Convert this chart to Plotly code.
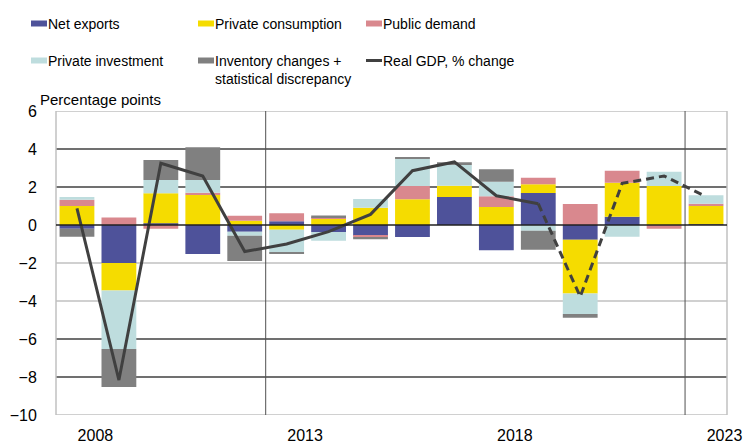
import plotly.graph_objects as go

years = list(range(2008, 2024))
net_exports = [-0.20, -2.00, 0.09, -1.53, -0.35, 0.20, -0.37, -0.56, -0.63, 1.47, -1.33, 1.68, -0.77, 0.44, 0.00, 0.04]
private_consumption = [1.00, -1.45, 1.58, 1.58, 0.23, -0.25, 0.32, 0.91, 1.35, 0.60, 0.95, 0.46, -2.83, 1.79, 2.05, 0.96]
public_demand = [0.33, 0.40, -0.20, 0.12, 0.26, 0.42, 0.10, -0.09, 0.70, 0.00, 0.56, 0.35, 1.10, 0.63, -0.20, 0.12]
private_investment = [0.14, -3.07, 0.70, 0.67, -0.21, -1.20, -0.46, 0.46, 1.44, 1.09, 0.77, -0.30, -1.08, -0.62, 0.75, 0.44]
inventory = [-0.42, -2.00, 1.05, 1.72, -1.33, -0.05, 0.08, -0.10, 0.05, 0.14, 0.65, -1.00, -0.20, 0.00, 0.00, 0.00]
real_gdp = [0.88, -8.16, 3.25, 2.58, -1.40, -1.00, -0.35, 0.56, 2.86, 3.32, 1.54, 1.12, -3.77, 2.19, 2.58, 1.49]
forecast_start = 2019
tick_years = [2008, 2013, 2018, 2023]
divider_years = [2013, 2023]

series = [
    ("Net exports", net_exports, "#4E529A"),
    ("Private consumption", private_consumption, "#F5DC00"),
    ("Public demand", public_demand, "#D9888E"),
    ("Private investment", private_investment, "#BEDDDE"),
    ("Inventory changes +<br>statistical discrepancy", inventory, "#808080"),
]
LINE_COLOR = "#404040"
FONT = "Liberation Sans, Arial, sans-serif"
LEG_FS = 14
TICK_FS = 16

W, H = 744, 444
ML, MR, MT, MB = 56, 17, 111, 29
PW, PH = W - ML - MR, H - MT - MB

def px(x):
    return (x - ML) / PW

def py(y):
    return 1 - (y - MT) / PH

xidx = list(range(len(years)))
fig = go.Figure()
for name, vals, col in series:
    fig.add_trace(go.Bar(x=xidx, y=vals, name=name, marker=dict(color=col, line=dict(width=0)),
                         showlegend=False))

split = years.index(forecast_start)
fig.add_trace(go.Scatter(x=xidx[:split + 1], y=real_gdp[:split + 1], mode="lines",
                         line=dict(color=LINE_COLOR, width=3), showlegend=False))
fig.add_trace(go.Scatter(x=xidx[split:], y=real_gdp[split:], mode="lines",
                         line=dict(color=LINE_COLOR, width=3, dash="8px,5px"), showlegend=False))

shapes = []
dark = "#404040"
light = "#C0C0C0"
grid_cols = {6: light, 4: dark, 2: dark, -2: light, -4: light, -6: dark, -8: dark, -10: light}
for v, c in grid_cols.items():
    shapes.append(dict(type="line", xref="paper", yref="y", x0=0, x1=1, y0=v, y1=v,
                       line=dict(color=c, width=1.3), layer="below"))
shapes.append(dict(type="line", xref="paper", yref="y", x0=0, x1=1, y0=0, y1=0,
                   line=dict(color="#202020", width=1.3), layer="above"))
for xv in (0, 1):
    shapes.append(dict(type="line", xref="paper", yref="paper", x0=xv, x1=xv, y0=0, y1=1,
                       line=dict(color=light, width=1.5), layer="below"))
for yr in divider_years:
    xv = years.index(yr) - 0.5
    shapes.append(dict(type="line", xref="x", yref="paper", x0=xv, x1=xv, y0=0, y1=1,
                       line=dict(color="#505050", width=1), layer="below"))

annotations = []
leg = [
    (series[0][0], series[0][2], 31, 23.5, "box"),
    (series[1][0], series[1][2], 198, 23.5, "box"),
    (series[2][0], series[2][2], 366, 23.5, "box"),
    (series[3][0], series[3][2], 31, 60.5, "box"),
    (series[4][0], series[4][2], 198, 60.5, "box"),
    ("Real GDP, % change", LINE_COLOR, 366, 60.5, "line"),
]
for name, col, x0, yc, kind in leg:
    if kind == "box":
        shapes.append(dict(type="rect", xref="paper", yref="paper", x0=px(x0), x1=px(x0 + 16),
                           y0=py(yc + 3), y1=py(yc - 3), fillcolor=col, line=dict(width=0)))
    else:
        shapes.append(dict(type="line", xref="paper", yref="paper", x0=px(x0), x1=px(x0 + 16),
                           y0=py(yc), y1=py(yc), line=dict(color=col, width=3)))
    annotations.append(dict(text=name, xref="paper", yref="paper", x=px(x0 + 15), y=py(yc - 10),
                            xanchor="left", yanchor="top", align="left", showarrow=False,
                            font=dict(family=FONT, size=LEG_FS, color="#000000")))
annotations.append(dict(text="Percentage points", xref="paper", yref="paper", x=px(38), y=py(99),
                        xanchor="left", yanchor="middle", showarrow=False,
                        font=dict(family=FONT, size=LEG_FS + 1, color="#000000")))

fig.update_layout(
    width=W, height=H,
    margin=dict(l=ML, r=MR, t=MT, b=MB),
    paper_bgcolor="white", plot_bgcolor="white",
    barmode="relative", bargap=0.17,
    font=dict(family=FONT, size=LEG_FS, color="#000000"),
    shapes=shapes, annotations=annotations,
    xaxis=dict(range=[-0.5, len(years) - 0.5], showgrid=False, zeroline=False, showline=False,
               tickvals=[years.index(y) + 0.44 for y in tick_years], ticktext=[str(y) for y in tick_years],
               ticks="outside", ticklen=6, tickcolor="rgba(0,0,0,0)", ticklabeloverflow="allow",
               automargin=False, tickfont=dict(family=FONT, size=TICK_FS)),
    yaxis=dict(range=[-10, 6], dtick=2, tick0=0, showgrid=False, zeroline=False, showline=False,
               ticks="outside", ticklen=15, tickcolor="rgba(0,0,0,0)", automargin=False,
               tickfont=dict(family=FONT, size=TICK_FS)),
)
fig.write_html("out.html", config={"displayModeBar": False},
               post_script="document.body.style.margin='0';document.body.style.overflow='hidden';")
